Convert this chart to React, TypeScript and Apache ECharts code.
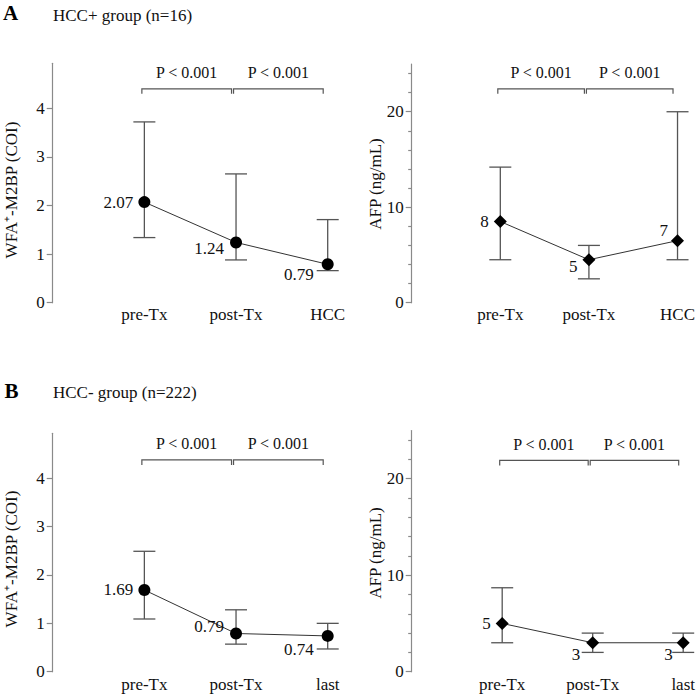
import React, { useEffect, useRef } from 'react';
import * as echarts from 'echarts';

// ---------- data ----------
const groupATitle = 'HCC+ group (n=16)';
const groupBTitle = 'HCC- group (n=222)';

const catsA = ['pre-Tx', 'post-Tx', 'HCC'];
const catsB = ['pre-Tx', 'post-Tx', 'last'];

const wfaAMedian = [2.07, 1.24, 0.79];
const wfaALow = [1.34, 0.88, 0.66];
const wfaAHigh = [3.72, 2.65, 1.71];
const wfaALabels = ['2.07', '1.24', '0.79'];

const afpAMedian = [8.5, 4.5, 6.5];
const afpALow = [4.5, 2.5, 4.5];
const afpAHigh = [14.2, 6.0, 20.0];
const afpALabels = ['8', '5', '7'];

const wfaBMedian = [1.69, 0.79, 0.74];
const wfaBLow = [1.09, 0.57, 0.47];
const wfaBHigh = [2.49, 1.28, 1.0];
const wfaBLabels = ['1.69', '0.79', '0.74'];

const afpBMedian = [5, 3, 3];
const afpBLow = [3, 2, 2];
const afpBHigh = [8.7, 4, 4];
const afpBLabels = ['5', '3', '3'];

const pValueLabels = ['P < 0.001', 'P < 0.001'];

const wfaTicks = [0, 1, 2, 3, 4];
const afpTicks = [0, 10, 20];
const afpMinorTicks = [2, 4, 6, 8, 12, 14, 16, 18, 22, 24];

const wfaTitle = 'WFA\u207A-M2BP (COI)';
const afpTitle = 'AFP (ng/mL)';

// ---------- styling / layout ----------
const SERIF = "'Liberation Serif', 'Times New Roman', Times, serif";
const AXIS_COLOR = '#8a8a8a';
const BAR_COLOR = '#555';
const TEXT_COLOR = '#111';

type Panel = {
  grid: { left: number; top: number; width: number; height: number };
  yMax: number;
  cats: string[];
  med: number[];
  low: number[];
  high: number[];
  labels: string[];
  symbol: string;
  symbolSize: number;
  ticks: number[];
  minor: number[];
  labelOff: number[][];
  xLabelMargin: number;
  bracketLevel: number;
  yTitle: string;
  yTitlePos: [number, number];
};

const panels: Panel[] = [
  {
    grid: { left: 52.7, top: 63.3, width: 275, height: 239.4 },
    yMax: 4.926,
    cats: catsA, med: wfaAMedian, low: wfaALow, high: wfaAHigh, labels: wfaALabels,
    symbol: 'circle', symbolSize: 12,
    ticks: wfaTicks, minor: [],
    labelOff: [[0, 0], [-1, 6], [-3, 10]],
    xLabelMargin: 3,
    bracketLevel: 4.4,
    yTitle: wfaTitle, yTitlePos: [11, 190],
  },
  {
    grid: { left: 411.7, top: 64, width: 272, height: 238.7 },
    yMax: 25,
    cats: catsA, med: afpAMedian, low: afpALow, high: afpAHigh, labels: afpALabels,
    symbol: 'diamond', symbolSize: 13,
    ticks: afpTicks, minor: afpMinorTicks,
    labelOff: [[0, 0], [0, 6.5], [2, -10]],
    xLabelMargin: 3,
    bracketLevel: 22.4,
    yTitle: afpTitle, yTitlePos: [375, 184],
  },
  {
    grid: { left: 52.7, top: 433.3, width: 275, height: 238.4 },
    yMax: 4.93,
    cats: catsB, med: wfaBMedian, low: wfaBLow, high: wfaBHigh, labels: wfaBLabels,
    symbol: 'circle', symbolSize: 12,
    ticks: wfaTicks, minor: [],
    labelOff: [[0, 0], [-1, -6.5], [-3, 14]],
    xLabelMargin: 4,
    bracketLevel: 4.38,
    yTitle: wfaTitle, yTitlePos: [11, 559],
  },
  {
    grid: { left: 411.7, top: 430.5, width: 272, height: 241.2 },
    yMax: 25,
    cats: catsB, med: afpBMedian, low: afpBLow, high: afpBHigh, labels: afpBLabels,
    symbol: 'diamond', symbolSize: 13,
    ticks: afpTicks, minor: afpMinorTicks,
    labelOff: [[0, 0], [-1, 12], [1, 12]],
    xLabelMargin: 4,
    bracketLevel: 21.9,
    yTitle: afpTitle, yTitlePos: [375, 553],
  },
];

function buildOption() {
  const grid: any[] = [];
  const xAxis: any[] = [];
  const yAxis: any[] = [];
  const series: any[] = [];
  const graphic: any[] = [];

  panels.forEach((p, i) => {
    grid.push({ ...p.grid, containLabel: false });
    xAxis.push({
      gridIndex: i,
      type: 'category',
      data: ['', ...p.cats],
      boundaryGap: false,
      axisLine: { show: false },
      axisTick: { show: false },
      splitLine: { show: false },
      axisLabel: {
        interval: 0,
        margin: p.xLabelMargin,
        color: TEXT_COLOR,
        fontSize: 17,
        fontFamily: SERIF,
      },
    });
    const majorIdx = yAxis.length;
    yAxis.push({
      gridIndex: i,
      type: 'value',
      position: 'left',
      min: 0,
      max: p.yMax,
      axisLine: { show: true, lineStyle: { color: AXIS_COLOR, width: 1.2 } },
      axisTick: { show: true, length: 6, customValues: p.ticks, lineStyle: { color: AXIS_COLOR, width: 1.2 } },
      axisLabel: {
        customValues: p.ticks,
        margin: 8,
        color: TEXT_COLOR,
        fontSize: 17,
        fontFamily: SERIF,
      },
      splitLine: { show: false },
    });
    if (p.minor.length) {
      yAxis.push({
        gridIndex: i,
        type: 'value',
        position: 'left',
        offset: 0,
        min: 0,
        max: p.yMax,
        axisLine: { show: false },
        axisTick: { show: true, length: 3.5, customValues: p.minor, lineStyle: { color: AXIS_COLOR, width: 1.2 } },
        axisLabel: { show: false },
        splitLine: { show: false },
      });
    }

    // error bars
    series.push({
      type: 'custom',
      xAxisIndex: i,
      yAxisIndex: majorIdx,
      silent: true,
      z: 1,
      encode: { x: 0, y: [1, 2] },
      data: p.cats.map((c, k) => [c, p.low[k], p.high[k]]),
      renderItem: (params: any, api: any) => {
        const x = api.value(0);
        const lo = api.coord([x, api.value(1)]);
        const hi = api.coord([x, api.value(2)]);
        const hw = 11;
        const style = { stroke: BAR_COLOR, lineWidth: 1.3, fill: 'none' };
        return {
          type: 'group',
          children: [
            { type: 'line', shape: { x1: lo[0], y1: lo[1], x2: hi[0], y2: hi[1] }, style },
            { type: 'line', shape: { x1: lo[0] - hw, y1: lo[1], x2: lo[0] + hw, y2: lo[1] }, style },
            { type: 'line', shape: { x1: hi[0] - hw, y1: hi[1], x2: hi[0] + hw, y2: hi[1] }, style },
          ],
        };
      },
    });

    // brackets with p-values
    series.push({
      type: 'custom',
      xAxisIndex: i,
      yAxisIndex: majorIdx,
      silent: true,
      z: 1,
      encode: { x: [0, 1], y: 2 },
      data: [
        [p.cats[0], p.cats[1], p.bracketLevel],
        [p.cats[1], p.cats[2], p.bracketLevel],
      ],
      renderItem: (params: any, api: any) => {
        const a = api.coord([api.value(0), api.value(2)]);
        const b = api.coord([api.value(1), api.value(2)]);
        const x1 = a[0] - 2.5;
        const x2 = b[0] - 4.5;
        const y = a[1];
        return {
          type: 'group',
          children: [
            {
              type: 'polyline',
              shape: { points: [[x1, y + 5], [x1, y], [x2, y], [x2, y + 5]] },
              style: { stroke: BAR_COLOR, lineWidth: 1.2, fill: null },
            },
            {
              type: 'text',
              style: {
                text: pValueLabels[params.dataIndex],
                x: (x1 + x2) / 2,
                y: y - 16,
                align: 'center',
                verticalAlign: 'middle',
                fontSize: 16,
                fontFamily: SERIF,
                fill: TEXT_COLOR,
              },
            },
          ],
        };
      },
    });

    // medians
    series.push({
      type: 'line',
      xAxisIndex: i,
      yAxisIndex: majorIdx,
      z: 3,
      symbol: p.symbol,
      symbolSize: p.symbolSize,
      showSymbol: true,
      itemStyle: { color: '#000' },
      lineStyle: { color: '#333', width: 1 },
      label: {
        show: true,
        position: 'left',
        distance: 5,
        color: TEXT_COLOR,
        fontSize: 17,
        fontFamily: SERIF,
        formatter: (prm: any) => p.labels[prm.dataIndex],
      },
      data: p.cats.map((c, k) => ({
        value: [c, p.med[k]],
        label: { offset: p.labelOff[k] },
      })),
    });

    graphic.push({
      type: 'text',
      x: p.yTitlePos[0],
      y: p.yTitlePos[1],
      rotation: Math.PI / 2,
      style: {
        text: p.yTitle,
        align: 'center',
        verticalAlign: 'middle',
        fontSize: 17,
        fontFamily: SERIF,
        fill: TEXT_COLOR,
      },
    });
  });

  graphic.push(
    { type: 'text', x: 3, y: 13, style: { text: 'A', fontSize: 21, fontWeight: 'bold', fontFamily: SERIF, fill: '#000', verticalAlign: 'middle' } },
    { type: 'text', x: 53, y: 15, style: { text: groupATitle, fontSize: 17, fontFamily: SERIF, fill: TEXT_COLOR, verticalAlign: 'middle' } },
    { type: 'text', x: 4.5, y: 391, style: { text: 'B', fontSize: 21, fontWeight: 'bold', fontFamily: SERIF, fill: '#000', verticalAlign: 'middle' } },
    { type: 'text', x: 53, y: 392, style: { text: groupBTitle, fontSize: 17, fontFamily: SERIF, fill: TEXT_COLOR, verticalAlign: 'middle' } },
  );

  return {
    animation: false,
    backgroundColor: '#fff',
    grid,
    xAxis,
    yAxis,
    series,
    graphic,
  };
}

export default function App() {
  const ref = useRef<HTMLDivElement>(null);
  useEffect(() => {
    if (!ref.current) return;
    const chart = echarts.init(ref.current, undefined, { renderer: 'svg' });
    chart.setOption(buildOption() as any);
    return () => chart.dispose();
  }, []);
  return (
    <div
      ref={ref}
      style={{ position: 'absolute', left: 0, top: 0, width: 698, height: 694 }}
    />
  );
}
